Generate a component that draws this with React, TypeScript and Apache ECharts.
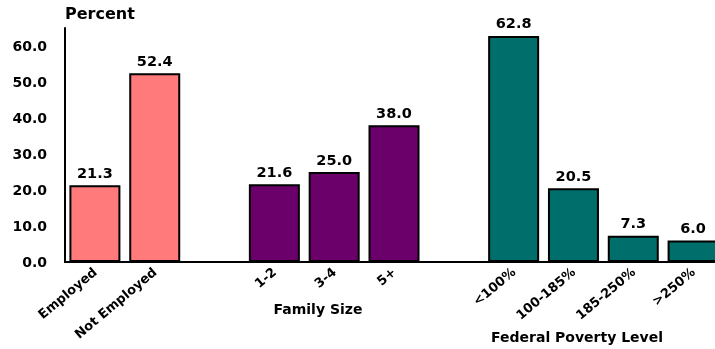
import React, { useEffect, useRef } from "react";
import * as echarts from "echarts";

const categories = ["Employed", "Not Employed", "", "1-2", "3-4", "5+", "", "<100%", "100-185%", "185-250%", ">250%"];
const employmentValues = [21.3, 52.4];
const familySizeValues = [21.6, 25.0, 38.0];
const povertyValues = [62.8, 20.5, 7.3, 6.0];
const yTicks = [0, 10, 20, 30, 40, 50, 60];
const yMax = 65;
const yTitle = "Percent";
const familyLabel = "Family Size";
const povertyLabel = "Federal Poverty Level";

const FONT = "DejaVu Sans";

function placed(values: number[], start: number): (number | null)[] {
  return categories.map((_, i) => (i >= start && i < start + values.length ? values[i - start] : null));
}

export default function App() {
  const ref = useRef<HTMLDivElement>(null);
  useEffect(() => {
    if (!ref.current) return;
    const chart = echarts.init(ref.current, undefined, { renderer: "svg" });
    const labelCfg = {
      show: true,
      position: "top" as const,
      distance: 5,
      color: "#000",
      fontFamily: FONT,
      fontWeight: "bold" as const,
      fontSize: 14.5,
      formatter: (p: any) => (p.value == null ? "" : Number(p.value).toFixed(1)),
    };
    const mk = (data: (number | null)[], color: string, name: string) => ({
      type: "bar" as const,
      name,
      data,
      barWidth: 51,
      barGap: "-100%",
      itemStyle: { color, borderColor: "#000", borderWidth: 2 },
      label: labelCfg,
    });
    chart.setOption({
      animation: false,
      grid: { left: 65, right: 0, top: 28, bottom: 87 },
      xAxis: {
        type: "category",
        data: categories,
        axisLine: { show: true, lineStyle: { color: "#000", width: 2 } },
        axisTick: { show: false },
        axisLabel: {
          rotate: 40,
          interval: 0,
          margin: 8,
          color: "#000",
          fontFamily: FONT,
          fontWeight: "bold",
          fontSize: 13,
        },
      },
      yAxis: {
        type: "value",
        min: 0,
        max: yMax,
        interval: 10,
        splitLine: { show: false },
        axisTick: { show: false },
        axisLine: { show: true, lineStyle: { color: "#000", width: 2 } },
        axisLabel: {
          color: "#000",
          fontFamily: FONT,
          fontWeight: "bold",
          fontSize: 14,
          margin: 18,
          formatter: (v: number) => (yTicks.includes(v) ? v.toFixed(1) : ""),
        },
      },
      graphic: [
        {
          type: "text",
          left: 65,
          top: 5,
          style: { text: yTitle, fill: "#000", font: `bold 16px "${FONT}"` },
        },
        {
          type: "text",
          x: 318,
          y: 309,
          style: { text: familyLabel, fill: "#000", font: `bold 14px "${FONT}"`, align: "center", verticalAlign: "middle" },
        },
        {
          type: "text",
          x: 577,
          y: 337,
          style: { text: povertyLabel, fill: "#000", font: `bold 14px "${FONT}"`, align: "center", verticalAlign: "middle" },
        },
      ],
      series: [
        mk(placed(employmentValues, 0), "#FF7B7B", "Employment"),
        mk(placed(familySizeValues, 3), "#6B006B", "Family Size"),
        mk(placed(povertyValues, 7), "#006E6B", "Federal Poverty Level"),
      ],
    });
    return () => chart.dispose();
  }, []);
  return (
    <div style={{ position: "fixed", left: 0, top: 0, width: 715, height: 349, overflow: "hidden" }}>
      <div ref={ref} style={{ width: 723, height: 349 }} />
    </div>
  );
}
